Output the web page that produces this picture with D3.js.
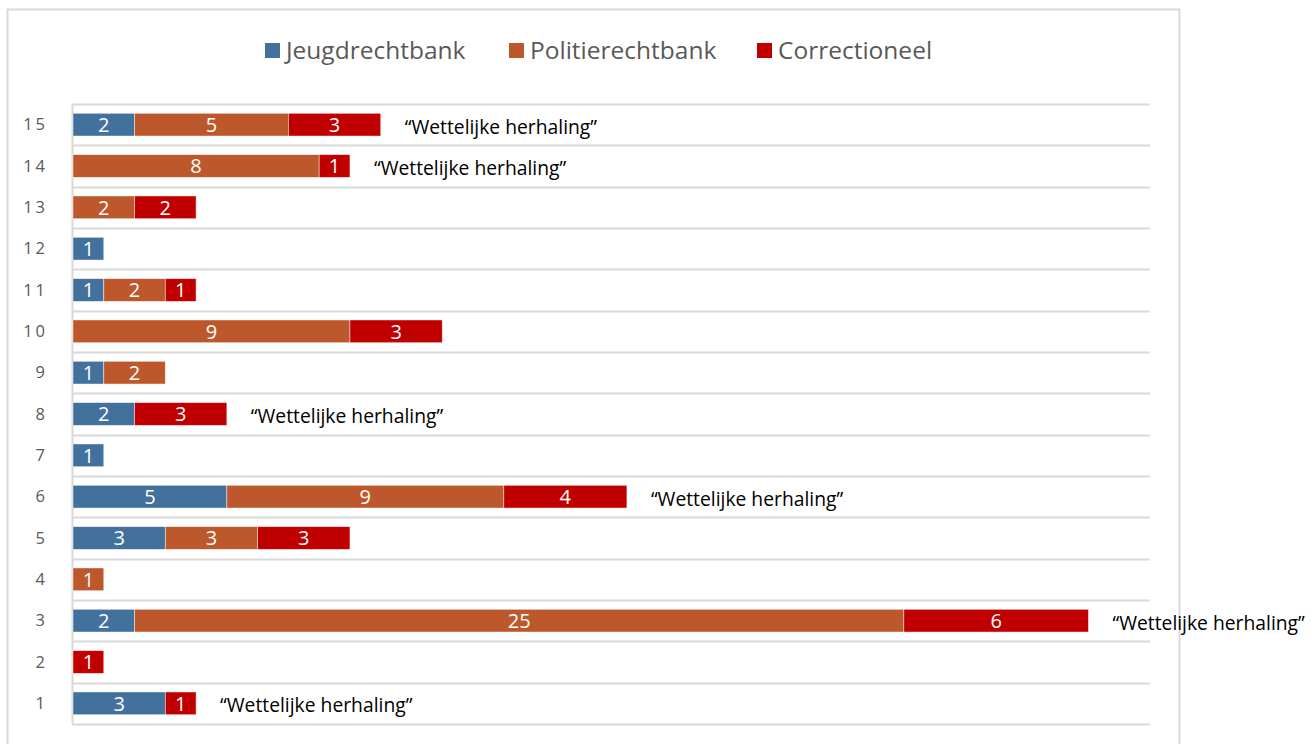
<!DOCTYPE html>
<html>
<head>
<meta charset="utf-8">
<script src="https://cdn.jsdelivr.net/npm/d3@7"></script>
<style>
  body { margin: 0; background: #fff; }
  svg { display: block; font-family: "Open Sans", "Noto Sans", sans-serif; }
</style>
</head>
<body>
<svg id="chart" width="1313" height="744"></svg>
<script>
// categories bottom to top
const categories = ["1", "2", "3", "4", "5", "6", "7", "8", "9", "10", "11", "12", "13", "14", "15"];
const jeugd   = [3, 0, 2, 0, 3, 5, 1, 2, 1, 0, 1, 1, 0, 0, 2];
const politie = [0, 0, 25, 1, 3, 9, 0, 0, 2, 9, 2, 0, 2, 8, 5];
const correct = [1, 1, 6, 0, 3, 4, 0, 3, 0, 3, 1, 0, 2, 1, 3];
const seriesNames = ["Jeugdrechtbank", "Politierechtbank", "Correctioneel"];
const seriesColors = ["#41719c", "#bd582c", "#c00000"];
const annotated = ["1", "3", "6", "8", "14", "15"];
const annotationText = "\u201cWettelijke herhaling\u201d";

const width = 1313, height = 744;
const margin = { top: 104, right: 163, bottom: 20, left: 73 };

const svg = d3.select("#chart");

// chart border
svg.append("rect")
  .attr("x", 7.5).attr("y", 9.5)
  .attr("width", 1172).attr("height", 760)
  .attr("fill", "none")
  .attr("stroke", "#d9d9d9")
  .attr("stroke-width", 2);

const rows = categories.map((c, i) => ({
  cat: c, Jeugdrechtbank: jeugd[i], Politierechtbank: politie[i], Correctioneel: correct[i]
}));

const stacked = d3.stack().keys(seriesNames)(rows);

const x = d3.scaleLinear()
  .domain([0, 35])
  .range([margin.left, 1150]);

const y = d3.scaleBand()
  .domain(categories.slice().reverse())
  .range([margin.top, 724])
  .paddingInner(0.45)
  .paddingOuter(0.225);

// gridlines at category boundaries
const step = y.step();
const gridYs = d3.range(categories.length + 1).map(i => margin.top + i * step);
svg.append("g")
  .selectAll("line")
  .data(gridYs)
  .join("line")
  .attr("x1", 72).attr("x2", 1150)
  .attr("y1", d => Math.round(d) + 0.5)
  .attr("y2", d => Math.round(d) + 0.5)
  .attr("stroke", "#d9d9d9")
  .attr("stroke-width", 2);

// vertical axis line
svg.append("line")
  .attr("x1", 72.5).attr("x2", 72.5)
  .attr("y1", margin.top).attr("y2", 724)
  .attr("stroke", "#d9d9d9")
  .attr("stroke-width", 2);

// category labels
svg.append("g")
  .selectAll("text")
  .data(categories)
  .join("text")
  .attr("x", 48)
  .attr("y", d => y(d) + y.bandwidth() / 2)
  .attr("dy", "0.35em")
  .attr("text-anchor", "end")
  .attr("fill", "#595959")
  .style("font-size", "16.5px")
  .style("letter-spacing", "3px")
  .text(d => d);

// bars
const layers = svg.append("g")
  .selectAll("g")
  .data(stacked)
  .join("g")
  .attr("fill", (d, i) => seriesColors[i]);

layers.selectAll("rect")
  .data(d => d.filter(s => s[1] - s[0] > 0))
  .join("rect")
  .attr("x", d => x(d[0]))
  .attr("y", d => y(d.data.cat))
  .attr("width", d => x(d[1]) - x(d[0]))
  .attr("height", y.bandwidth())
  .attr("stroke", "rgba(255,255,255,0.6)")
  .attr("stroke-width", 0.75);

layers.selectAll("text")
  .data(d => d.filter(s => s[1] - s[0] > 0))
  .join("text")
  .attr("x", d => (x(d[0]) + x(d[1])) / 2)
  .attr("y", d => y(d.data.cat) + y.bandwidth() / 2)
  .attr("dy", "0.36em")
  .attr("text-anchor", "middle")
  .attr("fill", "#fff")
  .style("font-size", "20px")
  .text(d => d[1] - d[0]);

// annotations
const totals = categories.map((c, i) => jeugd[i] + politie[i] + correct[i]);
svg.append("g")
  .selectAll("text")
  .data(annotated)
  .join("text")
  .attr("x", d => x(totals[categories.indexOf(d)]) + 24)
  .attr("y", d => y(d) + y.bandwidth() / 2 + 2)
  .attr("dy", "0.36em")
  .attr("fill", "#000")
  .style("font-size", "19.3px")
  .text(annotationText);

// legend
const legendX = [265, 509, 757];
const legend = svg.append("g")
  .selectAll("g")
  .data(seriesNames)
  .join("g")
  .attr("transform", (d, i) => `translate(${legendX[i]}, 50)`);

legend.append("rect")
  .attr("x", 0).attr("y", -7)
  .attr("width", 15).attr("height", 15)
  .attr("fill", (d, i) => seriesColors[i]);

legend.append("text")
  .attr("x", 21)
  .attr("y", 0)
  .attr("dy", "0.36em")
  .attr("fill", "#595959")
  .style("font-size", "24.5px")
  .text(d => d);
</script>
</body>
</html>
